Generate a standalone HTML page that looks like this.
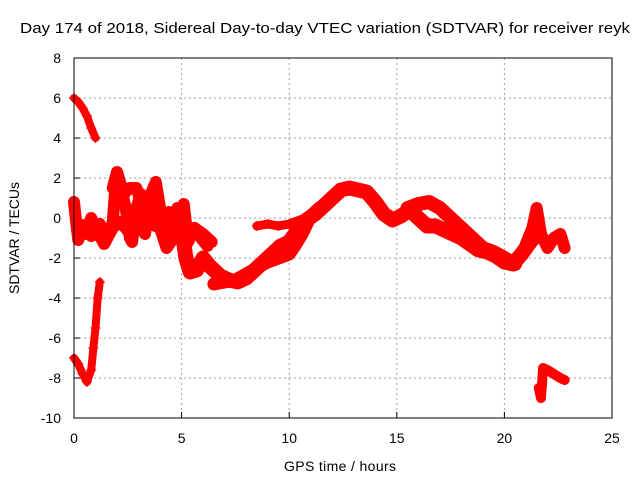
<!DOCTYPE html>
<html><head><meta charset="utf-8"><style>
body{margin:0;background:#fff}
svg{display:block;font-family:"Liberation Sans",sans-serif}
</style></head><body>
<svg id="chart" width="640" height="480">
<text x="20" y="33" textLength="610" lengthAdjust="spacingAndGlyphs" font-size="15">Day 174 of 2018, Sidereal Day-to-day VTEC variation (SDTVAR) for receiver reyk</text>
<text x="340" y="471" text-anchor="middle" font-size="14" textLength="112">GPS time / hours</text>
<text transform="translate(19,238) rotate(-90)" text-anchor="middle" font-size="14" textLength="112">SDTVAR / TECUs</text>
<g id="grid"></g><g id="marks"></g>
<rect x="74" y="58" width="538" height="360" fill="none" stroke="#000" stroke-width="1"/>
</svg>
<script>
const xTicks=[0,5,10,15,20,25];
const yTicks=[8,6,4,2,0,-2,-4,-6,-8,-10];
const trackTopH=[0,0.2,0.4,0.6,0.8,1.0];
const trackTopV=[6,5.8,5.5,5.1,4.5,4.0];
const trackLowH=[0,0.2,0.4,0.6,0.8,0.9,1.0,1.1,1.2];
const trackLowV=[-7,-7.3,-7.8,-8.2,-7.6,-6.5,-5.5,-4,-3.2];
const trackNoisyH=[0,0.1,0.2,0.4,0.6,0.8,1,1.2,1.4,1.6,1.8,1.9,2.0,2.2,2.4,2.6,2.7,2.9,3.1,3.2,3.3,3.5,3.8,4.0,4.2,4.4,4.7,4.9,5.1,5.3,5.6,5.9,6.2];
const trackNoisyV=[0.8,-0.2,-1.1,-0.5,-0.8,0,-0.5,-0.3,-1.0,-0.8,-0.2,1.2,2.0,1.5,0.5,-1.0,-1.2,0.5,1.2,0,-0.8,0.9,0.5,0.2,-0.3,0.3,-1,-0.5,0.7,-1.2,-0.5,-1.0,-1.4];
const trackNoisy2H=[1.8,2.0,2.3,2.6,2.9,3.2,3.5,3.8,4.0,4.3,4.5,4.8,5.0,5.3,5.6,6.0,6.4];
const trackNoisy2V=[1.5,2.3,1.2,1.5,1.5,0.5,1.0,1.8,0.5,-0.5,-0.2,0.5,-0.3,-0.8,-0.5,-0.8,-1.2];
const trackNoisy3H=[0.2,0.5,0.8,1.1,1.4,1.8,2.1,2.4,2.6,2.8,3.0,3.3,3.6,4.0,4.3,4.5,4.8];
const trackNoisy3V=[-0.3,-0.4,-0.9,-0.7,-1.3,-0.5,-0.2,-0.5,-0.8,-0.3,-0.5,0.5,-0.3,-0.5,-1.5,-1.2,-0.7];
const trackMainH=[5,5.2,5.4,5.7,6.0,6.3,6.8,7.2,7.6,8.0,8.4,8.8,9.2,9.6,10,10.4,10.8,11.2,11.6,12,12.4,12.8,13.2,13.6,14,14.4,14.8,15.2,15.6,16,16.4,16.8,17.2,17.6,18,18.4,18.8,19.2,19.6,20,20.4,20.8,21.2,21.5];
const trackMainV=[-0.5,-2.0,-2.7,-2.6,-2.0,-2.4,-2.9,-3.1,-3.2,-3.0,-2.6,-2.2,-1.8,-1.4,-1.2,-0.6,-0.1,0.2,0.6,1.0,1.4,1.5,1.4,1.3,0.8,0.2,-0.1,0.1,0.4,0,-0.4,-0.4,-0.6,-0.8,-1.0,-1.3,-1.6,-1.7,-1.9,-2.2,-2.3,-1.8,-1.2,-0.8];
const trackBand2H=[6.5,7,7.5,8,8.5,9,9.5,10,10.2,10.6,11,11.4];
const trackBand2V=[-3.3,-3.2,-3.1,-2.8,-2.5,-2.2,-2.0,-1.8,-1.5,-0.8,0.1,0.5];
const trackUpperH=[8.5,9.0,9.5,10,10.5];
const trackUpperV=[-0.4,-0.3,-0.4,-0.3,-0.1];
const trackUpper2H=[15.5,16,16.5,17,17.5,18,18.5,19,19.5,20,20.5];
const trackUpper2V=[0.5,0.7,0.8,0.5,0,-0.5,-1.0,-1.5,-1.7,-2.0,-2.3];
const trackLateH=[21,21.3,21.5,21.7,22,22.3,22.6,22.8];
const trackLateV=[-1.3,-0.5,0.5,-0.8,-1.5,-1.0,-0.8,-1.5];
const trackLateLowH=[21.6,21.7,21.8,22,22.3,22.6,22.8];
const trackLateLowV=[-8.5,-9,-7.5,-7.6,-7.8,-8,-8.1];
const NS='http://www.w3.org/2000/svg';
const X=h=>74+h*538/25, Y=v=>418-(v+10)*20;
const grid=document.getElementById('grid'), marks=document.getElementById('marks');
function el(t,a,p){const e=document.createElementNS(NS,t);for(const k in a)e.setAttribute(k,a[k]);p.appendChild(e);return e;}
xTicks.forEach(t=>{
  if(t>0&&t<25){const l=el('line',{x1:X(t),x2:X(t),y1:58,y2:418,stroke:'#a0a0a0','stroke-dasharray':'2,3'},grid);
  
  }
  const tx=el('text',{x:X(t),y:443,'text-anchor':'middle','font-size':14},grid);tx.textContent=t;
  
  
  el('line',{x1:X(t),x2:X(t),y1:418,y2:412,stroke:'#000'},grid);
});
yTicks.forEach(t=>{
  if(t<8&&t>-10){const l=el('line',{x1:74,x2:612,y1:Y(t),y2:Y(t),stroke:'#a0a0a0','stroke-dasharray':'2,3'},grid);
  
  }
  const tx=el('text',{x:61,y:Y(t)+5,'text-anchor':'end','font-size':14},grid);tx.textContent=t;
  
  
  el('line',{x1:74,x2:80,y1:Y(t),y2:Y(t),stroke:'#000'},grid);
});
function track(H,V,w,name){
  const pl=el('polyline',{points:H.map((h,i)=>X(h)+','+Y(V[i])).join(' '),fill:'none',stroke:'#f00','stroke-width':w,'stroke-linejoin':'round','stroke-linecap':'round'},marks);
  
  
  H.forEach((h,i)=>{const x=X(h),y=Y(V[i]);
    const p=el('path',{d:`M${x-5},${y}h10M${x},${y-5}v10`,stroke:'#f00','stroke-width':1.3},marks);
    
    });
}
track(trackTopH,trackTopV,8,'series-top');
track(trackLowH,trackLowV,8,'series-low');
track(trackNoisyH,trackNoisyV,12,'series-noisy');
track(trackNoisy2H,trackNoisy2V,12,'series-noisy-2');
track(trackNoisy3H,trackNoisy3V,12,'series-noisy-3');
track(trackMainH,trackMainV,15,'series-main');
track(trackBand2H,trackBand2V,13,'series-band2');
track(trackUpperH,trackUpperV,9,'series-upper');
track(trackUpper2H,trackUpper2V,14,'series-upper2');
track(trackLateH,trackLateV,12,'series-late');
track(trackLateLowH,trackLateLowV,10,'series-late-low');
</script>
</body></html>
